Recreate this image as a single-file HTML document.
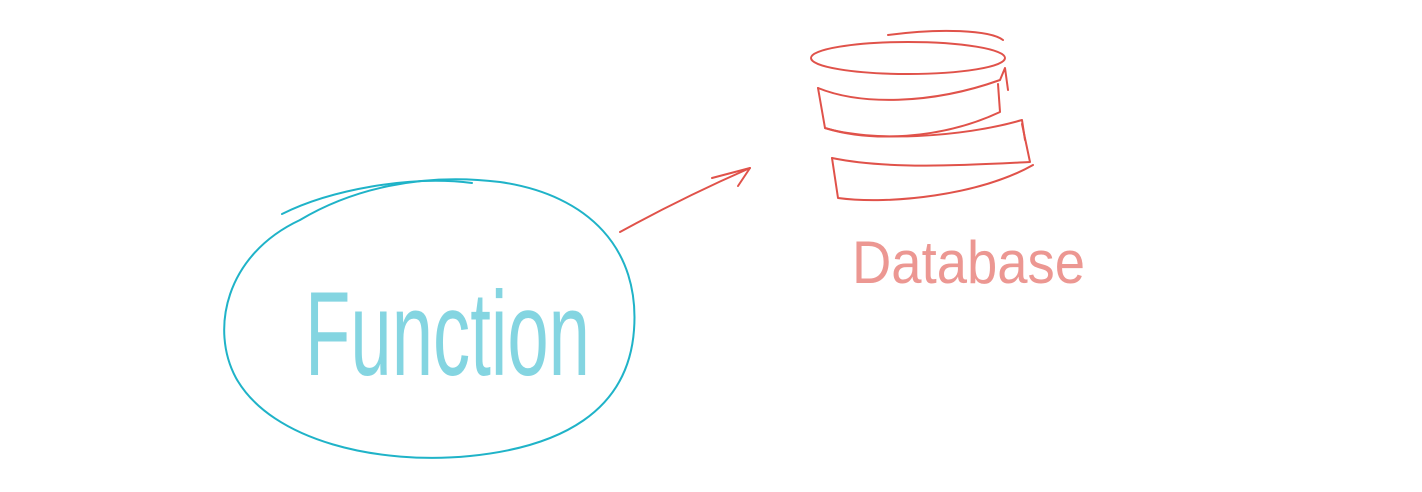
<!DOCTYPE html>
<html><head><meta charset="utf-8"><style>
html,body{margin:0;padding:0;background:#fff;width:1422px;height:492px;overflow:hidden}
</style></head><body>
<svg width="1422" height="492" viewBox="0 0 1422 492" xmlns="http://www.w3.org/2000/svg" fill="none" stroke-linecap="round" stroke-linejoin="round">
<g stroke="#1fb3c8" stroke-width="2">
<path d="M300 220 C225 255 210 330 236 378 C272 442 380 465 470 456 C560 447 628 412 634 330 C640 250 590 195 500 182 C420 172 350 190 300 220"/>
<path d="M282 214 C330 190 410 175 472 183"/>
</g>
<text x="305" y="375" font-family="Liberation Sans, sans-serif" font-size="120" fill="#1fb3c8" fill-opacity="0.55" textLength="285" lengthAdjust="spacingAndGlyphs">Function</text>
<g stroke="#e0524a" stroke-width="2">
<path d="M620 232 C660 210 700 190 750 168"/>
<path d="M712 178 L750 168 L738 186"/>
<ellipse cx="908" cy="58" rx="97" ry="16"/>
<path d="M888 35 C940 28 990 30 1003 40"/>
<path d="M818 88 C860 105 930 105 1000 80 L1005 68 L1008 90"/>
<path d="M818 88 L825 128 C870 142 940 140 1000 112 L998 84"/>
<path d="M825 128 C870 142 960 138 1022 120 L1025 140"/>
<path d="M832 158 C890 170 970 165 1030 162 L1022 124"/>
<path d="M832 158 L838 198 C890 205 980 195 1033 165"/>
</g>
<text x="852" y="283" font-family="Liberation Sans, sans-serif" font-size="60" fill="#e0524a" fill-opacity="0.6" textLength="233" lengthAdjust="spacingAndGlyphs">Database</text>
</svg>
</body></html>
